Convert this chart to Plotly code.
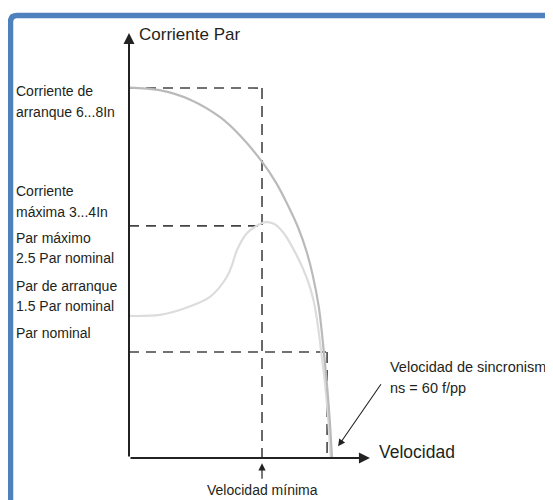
import plotly.graph_objects as go

# Speed in % of synchronous speed, values relative to nominal torque
current_speed = [0, 15, 30, 45, 55, 65, 72, 78, 83, 87, 90, 93, 95.1, 97.1, 98.5, 99.5]
current_value = [3.495, 3.47, 3.38, 3.21, 3.03, 2.80, 2.60, 2.38, 2.17, 1.95, 1.73, 1.43, 1.08, 0.68, 0.33, 0]

torque_speed = [0, 15.2, 28.4, 39.7, 48.0, 50.5, 52.9, 57.8, 62.5, 67.0, 71.0, 75.5, 82.8, 87.5, 90.3, 92.2, 94.1, 96.1, 97.6, 98.8]
torque_value = [1.34, 1.35, 1.42, 1.52, 1.71, 1.82, 1.96, 2.12, 2.19, 2.225, 2.21, 2.13, 1.89, 1.68, 1.50, 1.30, 1.02, 0.70, 0.38, 0]

start_current = 3.49
max_torque = 2.19
nominal_torque = 1.0
min_speed = 65.2
nominal_speed = 97.1

left_labels = [
    ("Corriente de", 3.46), ("arranque 6...8In", 3.26),
    ("Corriente", 2.52), ("máxima 3...4In", 2.32),
    ("Par máximo", 2.08), ("2.5 Par nominal", 1.89),
    ("Par de arranque", 1.62), ("1.5 Par nominal", 1.43),
    ("Par nominal", 1.18),
]

TXT = "#231f20"
FONT = "Liberation Sans, Arial, sans-serif"

fig = go.Figure()

dash_color = "#444444"
guides = [
    ([0, min_speed], [start_current, start_current], "10px,7px"),
    ([min_speed, min_speed], [start_current, 0], "11px,7px"),
    ([0, min_speed], [max_torque, max_torque], "10px,7px"),
    ([0, nominal_speed], [nominal_torque, nominal_torque], "10px,7px"),
    ([nominal_speed, nominal_speed], [nominal_torque, 0], "11px,7px"),
]
for gx, gy, d in guides:
    fig.add_trace(go.Scatter(x=gx, y=gy, mode="lines",
                             line=dict(color=dash_color, width=1.6, dash=d), hoverinfo="skip"))

# Curves
fig.add_trace(go.Scatter(x=torque_speed, y=torque_value, mode="lines",
                         line=dict(color="#dcdcdc", width=2.2, shape="spline", smoothing=0.9), hoverinfo="skip"))
fig.add_trace(go.Scatter(x=current_speed, y=current_value, mode="lines",
                         line=dict(color="#bababa", width=2.2, shape="spline", smoothing=1.0), hoverinfo="skip"))

ann = []
# Axes with arrowheads
ann.append(dict(x=0, y=4.01, ax=0, ay=0, xref="x", yref="y", axref="x", ayref="y",
                showarrow=True, arrowhead=2, arrowsize=1.1, arrowwidth=2, arrowcolor="#222", text=""))
ann.append(dict(x=118.1, y=0, ax=0, ay=0, xref="x", yref="y", axref="x", ayref="y",
                showarrow=True, arrowhead=2, arrowsize=1.1, arrowwidth=2, arrowcolor="#222", text=""))
# Min speed arrow
ann.append(dict(x=min_speed, y=-0.05, ax=min_speed, ay=-0.21, xref="x", yref="y", axref="x", ayref="y",
                showarrow=True, arrowhead=2, arrowsize=1.2, arrowwidth=1.2, arrowcolor="#222", text=""))
# Sync speed arrow
ann.append(dict(x=102.5, y=0.11, ax=124.0, ay=0.71, xref="x", yref="y", axref="x", ayref="y",
                showarrow=True, arrowhead=2, arrowsize=1.3, arrowwidth=1.1, arrowcolor="#222", text=""))

ann.append(dict(x=3.9, y=4.0, xref="x", yref="y", text="Corriente Par", showarrow=False,
                xanchor="left", yanchor="middle", font=dict(size=17, color=TXT, family=FONT)))
ann.append(dict(x=121.5, y=0.055, xref="x", yref="y", text="Velocidad", showarrow=False,
                xanchor="left", yanchor="middle", font=dict(size=17.5, color=TXT, family=FONT)))
ann.append(dict(x=min_speed, y=-0.30, xref="x", yref="y", text="Velocidad mínima", showarrow=False,
                xanchor="center", yanchor="middle", font=dict(size=14, color=TXT, family=FONT)))
ann.append(dict(x=127.0, y=0.86, xref="x", yref="y", text="Velocidad de sincronismo", showarrow=False,
                xanchor="left", yanchor="middle", font=dict(size=14.5, color=TXT, family=FONT)))
ann.append(dict(x=127.0, y=0.66, xref="x", yref="y", text="ns = 60 f/pp", showarrow=False,
                xanchor="left", yanchor="middle", font=dict(size=14.5, color=TXT, family=FONT)))
for t, yy in left_labels:
    ann.append(dict(x=-56.4, y=yy, xref="x", yref="y", text=t, showarrow=False,
                    xanchor="left", yanchor="middle", font=dict(size=14, color=TXT, family=FONT)))

# The page body has an 8px margin: figure covers page px 8..553, 8..500
OFF = 8.0
W, H = 553.0 - OFF, 500.0 - OFF
def px(x): return (x - OFF) / W
def py(y): return 1 - (y - OFF) / H
frame_path = (f"M {px(10.5)} {py(560)} L {px(10.5)} {py(22)} "
              f"Q {px(10.5)} {py(15.5)} {px(17)} {py(15.5)} L {px(620)} {py(15.5)}")
shapes = [dict(type="path", xref="paper", yref="paper", path=frame_path,
               line=dict(color="#4f81bd", width=5.5), layer="above")]

fig.update_layout(
    width=int(W), height=int(H), margin=dict(l=0, r=0, t=0, b=0),
    paper_bgcolor="white", plot_bgcolor="white", showlegend=False,
    xaxis=dict(range=[(OFF - 129) / 2.04, (553 - 129) / 2.04], visible=False, fixedrange=True),
    yaxis=dict(range=[(458 - 500) / 106, (458 - OFF) / 106], visible=False, fixedrange=True),
    annotations=ann, shapes=shapes,
)

fig.write_html("out.html")
